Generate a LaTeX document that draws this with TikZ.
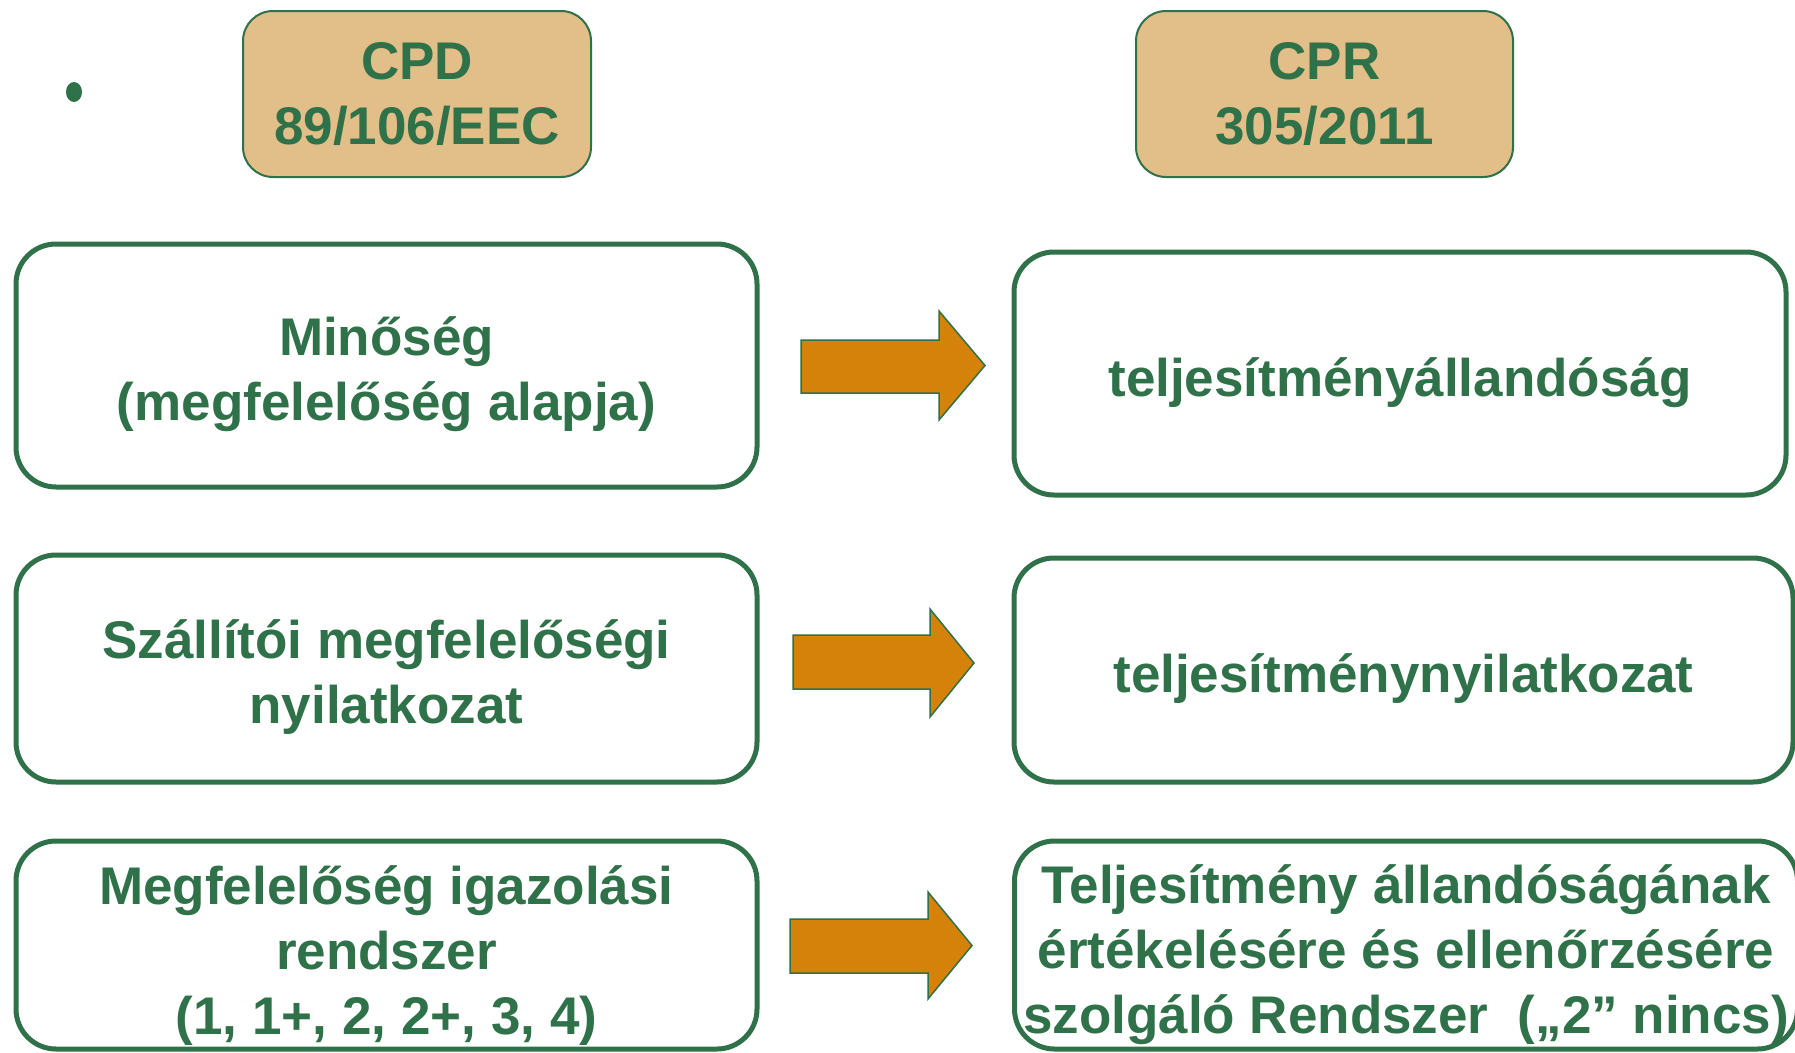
\documentclass[tikz,border=0pt]{standalone}
\usepackage{fontspec}
\setmainfont{Liberation Sans}
\usepackage{xcolor}
\definecolor{slide-green}{HTML}{2F7149}
\definecolor{slide-tan}{HTML}{E2BE88}
\definecolor{slide-orange}{HTML}{D4820A}
\usepackage{tikz}

\newcommand\liftline[1]{\rule{0pt}{#1}}

\tikzset{
  txtbox/.style={draw=slide-green, line width=5pt, rounded corners=40pt, fill=white,
    inner sep=0pt, align=center, text=slide-green,
    font=\bfseries\fontsize{53}{65}\selectfont},
  headbox/.style={txtbox, fill=slide-tan, line width=2pt, rounded corners=30pt},
}

\begin{document}
\begin{tikzpicture}[x=1pt, y=-1pt]

    % Background
    \useasboundingbox (0,0) rectangle (1795,1052);
    \fill[white] (0,0) rectangle (1795,1052);

    % Bullet
    \fill[slide-green] (74,92) ellipse (8 and 10);

    % Headers
    \node[headbox, minimum width=348pt, minimum height=166pt] (cpd) at (417,94)
        {CPD\\89/106/EEC};
    \node[headbox, minimum width=377pt, minimum height=166pt] (cpr) at (1324.5,94)
        {CPR\\305/2011};

    % Left column (CPD)
    \node[txtbox, minimum width=741pt, minimum height=243pt] (minoseg) at (386.5,365.5)
        {\liftline{57pt}Minőség\\(megfelelőség alapja)};
    \node[txtbox, minimum width=741pt, minimum height=227pt] (szallitoi) at (386.5,668.5)
        {\liftline{56pt}Szállítói megfelelőségi\\nyilatkozat};
    \node[txtbox, minimum width=741pt, minimum height=208pt] (igazolas) at (386.5,945)
        {\liftline{59pt}Megfelelőség igazolási\\rendszer\\(1, 1+, 2, 2+, 3, 4)};

    % Right column (CPR)
    \node[txtbox, minimum width=772pt, minimum height=243pt] (allandosag) at (1400,373.5)
        {\liftline{57pt}teljesítményállandóság};
    \node[txtbox, minimum width=779pt, minimum height=224pt] (nyilatkozat) at (1403.5,670)
        {\liftline{55pt}teljesítménynyilatkozat};
    \node[txtbox, minimum width=783pt, minimum height=208pt] (avcp) at (1406,945)
        {\liftline{59pt}Teljesítmény állandóságának\\értékelésére és ellenőrzésére\\szolgáló Rendszer\ \ („2” nincs)};

    % Block arrows
    \foreach \xa/\xh/\xb/\yt/\ys/\yz/\yb in {801/939/985/311/340/393/420,
                                              793/930/974/609/635/689/717,
                                              790/928/972/892/919/973/999}
    {
        \filldraw[fill=slide-orange, draw=slide-green, line width=1.5pt]
            (\xa,\ys) -- (\xh,\ys) -- (\xh,\yt) -- (\xb,{(\yt+\yb)/2})
            -- (\xh,\yb) -- (\xh,\yz) -- (\xa,\yz) -- cycle;
    }

\end{tikzpicture}
\end{document}
